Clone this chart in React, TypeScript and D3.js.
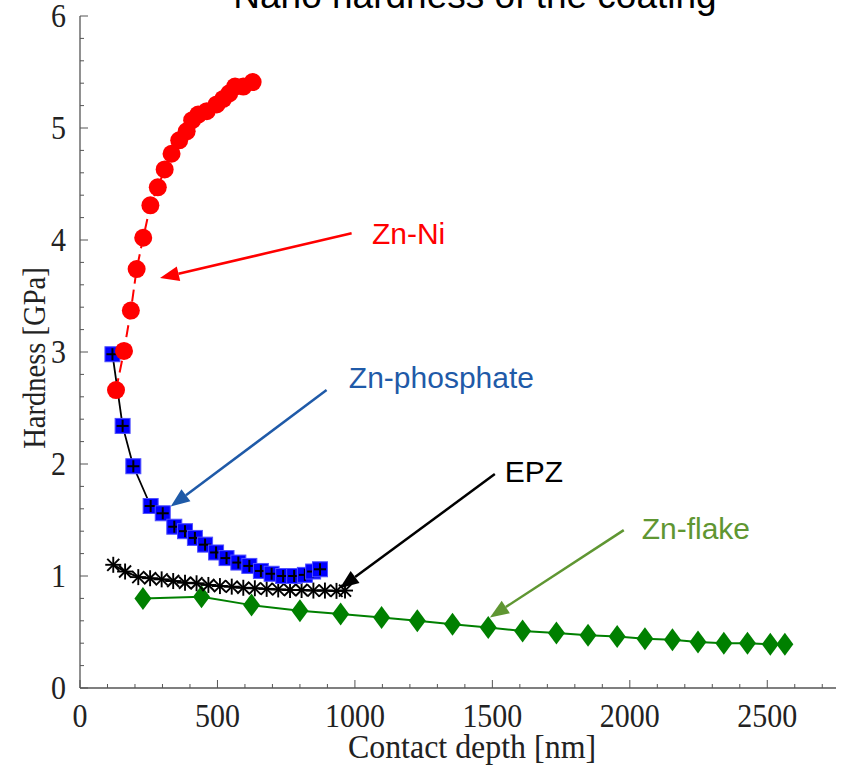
import React from "react";
import * as d3 from "d3";

const W = 841;
const H = 767;

// Data (contact depth nm, hardness GPa)
const znNiX = [131, 160, 185, 206, 230, 256, 283, 308, 333, 361, 388, 408, 430, 461, 497, 521, 543, 564, 594, 628];
const znNiY = [2.66, 3.01, 3.37, 3.74, 4.02, 4.31, 4.47, 4.63, 4.77, 4.89, 4.97, 5.07, 5.12, 5.15, 5.21, 5.26, 5.31, 5.37, 5.37, 5.41];

const znPhX = [118, 155, 194, 257, 301, 343, 382, 418, 455, 495, 533, 576, 616, 658, 697, 739, 779, 818, 848, 873];
const znPhY = [2.98, 2.34, 1.98, 1.625, 1.56, 1.44, 1.4, 1.34, 1.28, 1.21, 1.16, 1.12, 1.09, 1.045, 1.02, 1.0, 1.0, 1.01, 1.04, 1.06];

const epzX = [121, 164, 212, 255, 297, 339, 382, 424, 467, 509, 552, 594, 636, 679, 721, 764, 806, 849, 891, 933, 964];
const epzY = [1.1, 1.04, 0.99, 0.98, 0.97, 0.955, 0.94, 0.935, 0.92, 0.91, 0.905, 0.895, 0.89, 0.885, 0.88, 0.875, 0.875, 0.87, 0.87, 0.867, 0.87];

const flakeX = [229, 442, 624, 800, 948, 1097, 1227, 1355, 1485, 1610, 1733, 1848, 1954, 2055, 2155, 2248, 2342, 2428, 2511, 2564];
const flakeY = [0.8, 0.815, 0.74, 0.69, 0.66, 0.63, 0.6, 0.57, 0.54, 0.51, 0.49, 0.47, 0.46, 0.44, 0.43, 0.41, 0.4, 0.4, 0.39, 0.39];

const xTicks = [0, 500, 1000, 1500, 2000, 2500];
const yTicks = [0, 1, 2, 3, 4, 5, 6];

// Annotations: label, color, text anchor (data), arrow start, arrow tip (data)
const annLabels = ["Zn-Ni", "Zn-phosphate", "EPZ", "Zn-flake"];
const annColors = ["#ff0000", "#1f5aa8", "#000000", "#5f9632"];
const annText = [[1062, 3.96], [978, 2.68], [1545, 1.84], [2043, 1.33]];
const annFrom = [[988, 4.06], [897, 2.66], [1509, 1.91], [1978, 1.41]];
const annTo = [[291, 3.66], [330, 1.62], [945, 0.89], [1491, 0.63]];

const title = "Nano hardness of the coating";
const xLabel = "Contact depth [nm]";
const yLabel = "Hardness [GPa]";

const x = d3.scaleLinear().domain([0, 2750]).range([80, 836]);
const y = d3.scaleLinear().domain([0, 6]).range([688, 16]);

const zip = (a: number[], b: number[]) => a.map((v, i) => [v, b[i]] as [number, number]);

const line = d3
  .line<[number, number]>()
  .x((d) => x(d[0]))
  .y((d) => y(d[1]));

const SERIF = "'Liberation Serif', 'Times New Roman', serif";
const SANS = "'Liberation Sans', Arial, sans-serif";

function Arrow({ from, to, color }: { from: number[]; to: number[]; color: string }) {
  const x1 = x(from[0]);
  const y1 = y(from[1]);
  const x2 = x(to[0]);
  const y2 = y(to[1]);
  const ang = Math.atan2(y2 - y1, x2 - x1);
  const hl = 19;
  const hw = 7.5;
  const bx = x2 - hl * Math.cos(ang);
  const by = y2 - hl * Math.sin(ang);
  const px = -Math.sin(ang) * hw;
  const py = Math.cos(ang) * hw;
  return (
    <g>
      <line x1={x1} y1={y1} x2={bx} y2={by} stroke={color} strokeWidth={2.5} />
      <path d={`M${x2},${y2}L${bx + px},${by + py}L${bx - px},${by - py}Z`} fill={color} />
    </g>
  );
}

export default function App() {
  const axisColor = "#555";
  const xMinor = d3.range(0, 2751, 100);
  const yMinor = d3.range(0, 6.001, 0.2);
  const ni = zip(znNiX, znNiY);
  const ph = zip(znPhX, znPhY);
  const ep = zip(epzX, epzY);
  const fl = zip(flakeX, flakeY);
  return (
    <svg
      width={W}
      height={H}
      style={{ position: "absolute", left: 0, top: 0, background: "#fff" }}
    >
      <rect width={W} height={H} fill="#fff" />
      {/* title */}
      <text x={475} y={8} textAnchor="middle" fontFamily={SANS} fontSize={37} fill="#000">
        {title}
      </text>

      {/* axes */}
      <line x1={x(0)} y1={y(0)} x2={x(2750)} y2={y(0)} stroke={axisColor} strokeWidth={1.3} />
      <line x1={x(0)} y1={y(0)} x2={x(0)} y2={y(6)} stroke={axisColor} strokeWidth={1.3} />
      {xMinor.map((t) => {
        const major = Math.abs(t % 500) < 1e-6;
        return (
          <line key={"xm" + t} x1={x(t)} x2={x(t)} y1={y(0)} y2={y(0) - (major ? 8 : 4)} stroke={axisColor} strokeWidth={1} />
        );
      })}
      {yMinor.map((t) => {
        const major = Math.abs(t - Math.round(t)) < 1e-6;
        return (
          <line key={"ym" + t} x1={x(0)} x2={x(0) + (major ? 8 : 4)} y1={y(t)} y2={y(t)} stroke={axisColor} strokeWidth={1} />
        );
      })}
      {xTicks.map((t) => (
        <text key={"xt" + t} transform={`translate(${x(t)},727) scale(1,1.15)`} textAnchor="middle" fontFamily={SERIF} fontSize={30} fill="#222">
          {t}
        </text>
      ))}
      {yTicks.map((t) => (
        <text key={"yt" + t} transform={`translate(66,${y(t) + 11}) scale(1,1.15)`} textAnchor="end" fontFamily={SERIF} fontSize={30} fill="#222">
          {t}
        </text>
      ))}
      <text transform={`translate(472,758) scale(1.03,1.12)`} textAnchor="middle" fontFamily={SERIF} fontSize={31} fill="#222">
        {xLabel}
      </text>
      <text
        transform={`translate(45,358) rotate(-90) scale(1.02,1.12)`}
        textAnchor="middle"
        fontFamily={SERIF}
        fontSize={28}
        fill="#222"
      >
        {yLabel}
      </text>

      {/* Zn-flake */}
      <path d={line(fl) || ""} fill="none" stroke="#008000" strokeWidth={2} />
      {fl.map((d, i) => (
        <path key={"fl" + i} transform={`translate(${x(d[0])},${y(d[1])})`} d="M0,-11.5L8.5,0L0,11.5L-8.5,0Z" fill="#008000" />
      ))}

      {/* EPZ */}
      <path d={line(ep) || ""} fill="none" stroke="#000" strokeWidth={2} />
      {ep.map((d, i) => (
        <g key={"ep" + i} transform={`translate(${x(d[0])},${y(d[1])})`} stroke="#000" strokeWidth={1.9}>
          <line x1={-8} x2={8} y1={0} y2={0} />
          <line x1={0} x2={0} y1={-8} y2={8} />
          <line x1={-6} x2={6} y1={-6} y2={6} />
          <line x1={-6} x2={6} y1={6} y2={-6} />
        </g>
      ))}

      {/* Zn-phosphate */}
      <path d={line(ph) || ""} fill="none" stroke="#000" strokeWidth={1.8} />
      {ph.map((d, i) => (
        <g key={"ph" + i} transform={`translate(${x(d[0])},${y(d[1])})`}>
          <rect x={-7.5} y={-7.5} width={15} height={15} fill="#0000ff" stroke="#5050ff" strokeWidth={1} />
          <line x1={-6} x2={6} y1={0} y2={0} stroke="#000" strokeWidth={2} />
          <line x1={0} x2={0} y1={-6} y2={6} stroke="#000" strokeWidth={2} />
        </g>
      ))}

      {/* Zn-Ni */}
      <path d={line(ni) || ""} fill="none" stroke="#ff0000" strokeWidth={2} strokeDasharray="12,6" />
      {ni.map((d, i) => (
        <circle key={"ni" + i} cx={x(d[0])} cy={y(d[1])} r={9} fill="#ff0000" />
      ))}

      {/* annotations */}
      {annLabels.map((lab, i) => (
        <g key={"ann" + i}>
          <Arrow from={annFrom[i]} to={annTo[i]} color={annColors[i]} />
          <text x={x(annText[i][0])} y={y(annText[i][1])} fontFamily={SANS} fontSize={30} fill={annColors[i]}>
            {lab}
          </text>
        </g>
      ))}
    </svg>
  );
}
